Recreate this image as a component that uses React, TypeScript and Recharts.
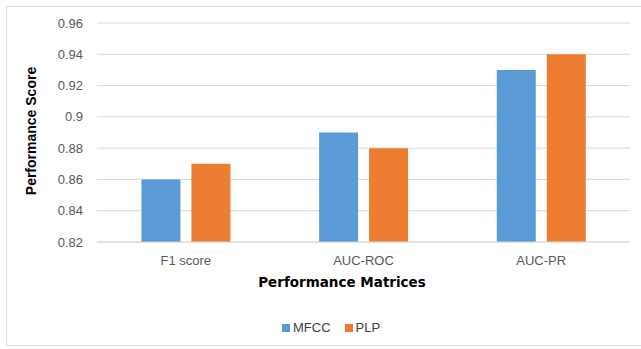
import React from "react";
import { BarChart, Bar, XAxis, YAxis, CartesianGrid, Legend, Label } from "recharts";

const categories = ["F1 score", "AUC-ROC", "AUC-PR"];
const mfccValues = [0.86, 0.89, 0.93];
const plpValues = [0.87, 0.88, 0.94];
const yTicks = [0.82, 0.84, 0.86, 0.88, 0.9, 0.92, 0.94, 0.96];

const data = categories.map((c, i) => ({ name: c, MFCC: mfccValues[i], PLP: plpValues[i] }));

const BLUE = "#5B9BD5";
const ORANGE = "#ED7D31";
const TICK = "#595959";

const renderLegend = (props: any) => {
  const payload = props.payload || [];
  return (
    <div style={{ display: "flex", alignItems: "center", height: 15, paddingLeft: 282, fontFamily: "Liberation Sans", fontSize: 13, lineHeight: "15px", color: "#404040" }}>
      {payload.map((p: any, i: number) => (
        <div key={i} style={{ display: "flex", alignItems: "center", marginRight: 14 }}>
          <span style={{ display: "inline-block", width: 8, height: 8, background: p.color, marginRight: 3 }} />
          <span>{p.value}</span>
        </div>
      ))}
    </div>
  );
};

export default function App() {
  return (
    <div style={{ position: "absolute", left: 0, top: 0, width: 641, height: 349, background: "#fff" }}>
      <div style={{ position: "absolute", left: 6, top: 6, width: 640, height: 340, border: "1px solid #d9d9d9", boxSizing: "border-box" }} />
      <div style={{ position: "absolute", left: 0, top: 0 }}>
        <BarChart
          width={641}
          height={349}
          data={data}
          margin={{ top: 23, right: 11, bottom: 62, left: 37 }}
          barCategoryGap="25%"
          barGap={11}
        >
          <CartesianGrid horizontal vertical={false} stroke="#d9d9d9" />
          <XAxis
            dataKey="name"
            height={30}
            axisLine={{ stroke: "#d9d9d9" }}
            tickLine={false}
            tickSize={0}
            tickMargin={14}
            tick={{ fill: TICK, fontSize: 13, fontFamily: "Liberation Sans" }}
          >
            <Label
              content={() => (
                <text x={342} y={287} textAnchor="middle" fontFamily="DejaVu Sans" fontWeight="bold" fontSize={13.5} fill="#000">
                  Performance Matrices
                </text>
              )}
            />
          </XAxis>
          <YAxis
            width={60}
            domain={[0.82, 0.96]}
            ticks={yTicks}
            allowDataOverflow
            axisLine={false}
            tickLine={false}
            tickSize={0}
            tickMargin={14}
            tickFormatter={(v: number) => String(Number(v.toFixed(2)))}
            tick={{ fill: TICK, fontSize: 13, fontFamily: "Liberation Sans" }}
          >
            <Label
              content={() => (
                <text
                  x={31}
                  y={131}
                  textAnchor="middle"
                  dominantBaseline="central"
                  transform="rotate(-90 31 131)"
                  fontFamily="Liberation Sans"
                  fontWeight="bold"
                  fontSize={14}
                  fill="#000"
                >
                  Performance Score
                </text>
              )}
            />
          </YAxis>
          <Legend content={renderLegend} verticalAlign="bottom" wrapperStyle={{ position: "absolute", left: 0, top: 320, width: 641, height: 15 }} />
          <Bar dataKey="MFCC" fill={BLUE} isAnimationActive={false} />
          <Bar dataKey="PLP" fill={ORANGE} isAnimationActive={false} />
        </BarChart>
      </div>
    </div>
  );
}
